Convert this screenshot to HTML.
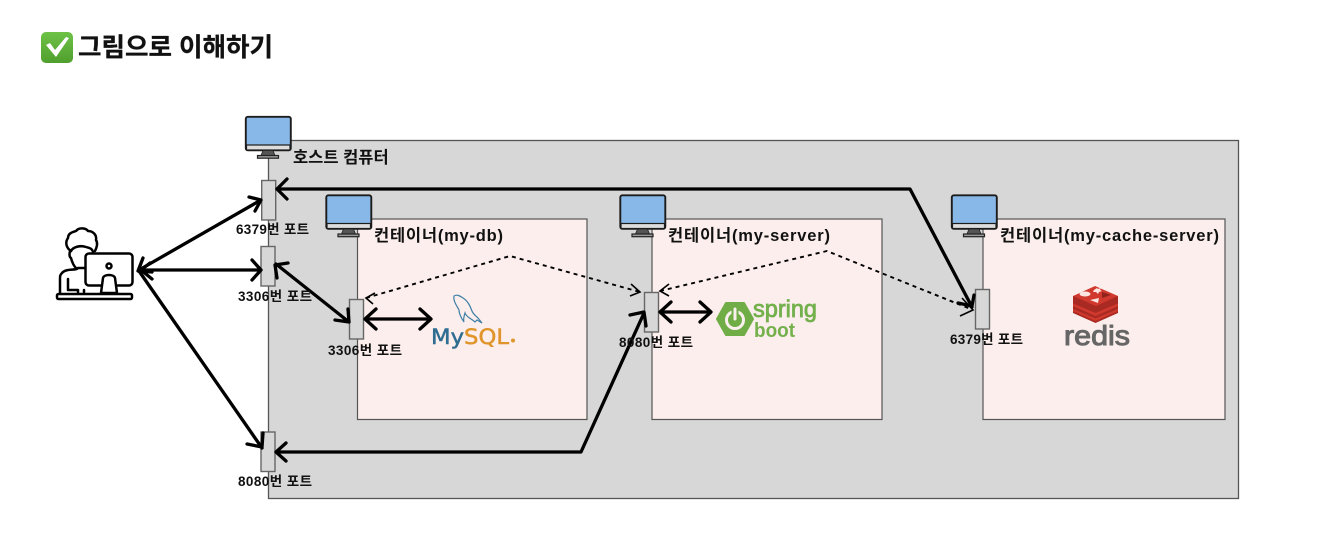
<!DOCTYPE html>
<html lang="ko"><head><meta charset="utf-8"><style>
html,body{margin:0;padding:0;background:#fff;width:1332px;height:550px;overflow:hidden}
svg{display:block}
text{font-family:"Liberation Sans","Noto Sans CJK KR",sans-serif;font-weight:700;fill:#111}
.l{font-size:16.5px}.p{font-size:13.5px}
.a{fill:none;stroke:#000;stroke-width:3.3;stroke-linecap:round;stroke-linejoin:round}
.d{fill:none;stroke:#000;stroke-width:1.9;stroke-dasharray:4 4}
.dh{fill:none;stroke:#000;stroke-width:1.6}
.c{fill:#fbeeec;stroke:#555;stroke-width:1.2}
.pt{fill:#d7d7d7;stroke:#666;stroke-width:1.4}
</style></head><body>
<svg width="1332" height="550" viewBox="0 0 1332 550" xmlns="http://www.w3.org/2000/svg">
<defs>
<linearGradient id="g" x1="0" y1="0" x2="0" y2="1"><stop offset="0" stop-color="#6fc247"/><stop offset="1" stop-color="#4f9f2e"/></linearGradient>
<g id="m">
<rect x="0.8" y="0.8" width="45" height="33.5" rx="2" fill="#88b8e8" stroke="#1c1c1c" stroke-width="1.9"/>
<rect x="1.5" y="29" width="43.5" height="5" fill="#ddd" stroke="#1c1c1c" stroke-width="1.2"/>
<path d="M18 34.500h10l2 5h-14z" fill="#555" stroke="#222" stroke-width=".8"/>
<rect x="12.500" y="39.500" width="21" height="2.700" fill="#999" stroke="#222" stroke-width="1.200"/>
</g>
</defs>

<!-- title -->
<rect x="41" y="32" width="32" height="31" rx="5" fill="url(#g)"/>
<path d="M46 45L50 43L55 50L66 37L69 38L56 57Z" fill="#fff"/>
<text x="78" y="56" textLength="195" lengthAdjust="spacingAndGlyphs" style="font-size:25.5px;stroke:#111;stroke-width:.3">그림으로 이해하기</text>

<!-- boxes -->
<rect x="268.500" y="140.500" width="970" height="358" fill="#d7d7d7" stroke="#555" stroke-width="1.300"/>
<rect class="c" x="357.500" y="219" width="229.500" height="200.500"/>
<rect class="c" x="652" y="219" width="230" height="200.500"/>
<rect class="c" x="983" y="219" width="242" height="200.500"/>

<use href="#m" x="245" y="116"/>
<use href="#m" x="325.500" y="194.500"/>
<use href="#m" x="619.500" y="194.500"/>
<use href="#m" x="951" y="194.500"/>

<text class="l" x="293" y="163">호스트 컴퓨터</text>
<text class="l" x="374" y="241" textLength="129">컨테이너(my-db)</text>
<text class="l" x="668" y="241" textLength="162">컨테이너(my-server)</text>
<text class="l" x="1000" y="241" textLength="219">컨테이너(my-cache-server)</text>

<!-- dashed -->
<path class="d" d="M366 298L510 256L640 292"/>
<path class="dh" d="M375 293L366 298L373 304M631 284L640 292L630 296"/>
<path class="d" d="M660 291L827 251L973 310"/>
<path class="dh" d="M669 284L660 291L669 296M962 298L973 310L960 316"/>

<!-- ports -->
<rect class="pt" x="261.700" y="180.500" width="14" height="39.500"/>
<rect class="pt" x="261" y="246.500" width="14" height="39.500"/>
<rect class="pt" x="261" y="432" width="14" height="39.500"/>
<rect class="pt" x="349.500" y="299.500" width="14" height="39.500"/>
<rect class="pt" x="644.500" y="292.500" width="14" height="39.500"/>
<rect class="pt" x="975.500" y="289.500" width="14" height="39.500"/>

<!-- arrows -->
<path class="a" d="M139 270L261 200M249 197L261 200L255 211"/>
<path class="a" d="M141 270H261M252 260L261 270L252 280"/>
<path class="a" d="M139 271L262 448M247 444L262 447L263 433"/>
<path class="a" d="M143 258L138 271L152 272M150 263L141 270L152 279"/>
<path class="a" d="M276 264L349 322M288 263L275 265L277 278M335 320L349 322L348 309"/>
<path class="a" d="M365 319H430M376 309L365 319L376 329M420 309L431 319L420 329"/>
<path class="a" d="M660 312H710M671 302L660 312L671 322M700 302L711 312L700 322"/>
<path class="a" d="M277 189H910L972 307M287 179L277 189L287 199M958 303L972 306L974 295"/>
<path class="a" d="M276 452H581L644 313M286 443L276 452L286 461M630 315L644 312L646 326"/>

<!-- port labels -->
<text class="p" x="236" y="234" textLength="73">6379번 포트</text>
<text class="p" x="238" y="301" textLength="74">3306번 포트</text>
<text class="p" x="328" y="355" textLength="74">3306번 포트</text>
<text class="p" x="619" y="347" textLength="74">8080번 포트</text>
<text class="p" x="950" y="344" textLength="73">6379번 포트</text>
<text class="p" x="238" y="486" textLength="74">8080번 포트</text>

<!-- person -->
<g fill="none" stroke="#000" stroke-width="2.500" stroke-linejoin="round" stroke-linecap="round">
<path d="M71 251c-5-3-6-9-3-13c0-5 5-6 8-7c3-4 10-3 12 0c5 0 9 4 8 9c2 3 1 7-1 11"/>
<path d="M71 251c2-4 9-6 15-4c3 1 6 1 7 5"/>
<path d="M71 251c-2 0-2 6 0 7c1 4 3 8 5 10"/>
<path d="M85 268h-7c-2 3-12 0-16 5c-2 2-2 3-2 6v14"/>
<path d="M68 279v11h10M78 290v3M84 290v3"/>
<rect x="85.500" y="253.500" width="47" height="32" rx="3.500" fill="#fff"/>
<circle cx="109" cy="266" r="2.500"/>
<path d="M101 293l2-15c1-4 11-4 12 0l2 15z" fill="#fff"/>
<rect x="57" y="294" width="75" height="5" rx="1.500" fill="#fff"/>
</g>

<!-- mysql -->
<path d="M454 296c3-2 6 0 9 2c5 3 7 8 9 13c1 3 4 5 6 7l4 5l-5-3l-2 2c-3-3-9-5-10-9c-1 3-2 6-1 9c-3-4-5-9-5-12c-2-4-6-9-5-14z" fill="none" stroke="#3d7fa6" stroke-width="1.200"/>
<text x="431" y="344" textLength="78" lengthAdjust="spacingAndGlyphs" style="font-size:21px;fill:#2f6d91;font-family:'DejaVu Sans',sans-serif;font-weight:400;stroke-width:.5;stroke:#2f6d91">My<tspan style="fill:#e0952b;stroke:#e0952b">SQL</tspan></text>
<circle cx="513" cy="340.500" r="2" fill="#e0952b"/>

<!-- spring -->
<path d="M717 319L726 303H744L753 319L744 335H726Z" fill="#70ad47" stroke="#70ad47" stroke-width="2" stroke-linejoin="round"/>
<circle cx="735" cy="320" r="8.500" fill="none" stroke="#fbf0ed" stroke-width="3"/>
<path d="M735 308V318" stroke="#70ad47" stroke-width="7"/>
<path d="M735 309V319" stroke="#fbf0ed" stroke-width="3" stroke-linecap="round"/>
<text x="753" y="317" textLength="64" lengthAdjust="spacingAndGlyphs" style="font-size:24px;fill:#74b14d;stroke:#74b14d;stroke-width:.8;font-weight:400">spring</text>
<text x="754" y="337" textLength="41" lengthAdjust="spacingAndGlyphs" style="font-size:20px;fill:#74b14d">boot</text>

<!-- redis -->
<path d="M1073 296V313L1095.500 323L1118 313V296Z" fill="#a92a22"/>
<path d="M1073 303.500L1095.500 313L1118 303.500V306L1095.500 316L1073 306Z" fill="#d1392e"/>
<path d="M1073 309L1095.500 318.500L1118 309V311L1095.500 321L1073 311Z" fill="#d1392e"/>
<path d="M1073 296L1095 286L1118 296L1096 306Z" fill="#d1392e"/>
<ellipse cx="1085" cy="294" rx="5.500" ry="2.500" fill="#fbe5e1"/>
<path d="M1094 290l3-2 1 1 3-1-1 2 2 1-3 1-1 2-2-2-3 0z" fill="#fbe5e1"/>
<path d="M1090 300l9-2-1 5z" fill="#fbe5e1"/>
<path d="M1102 292l9 3-9 3z" fill="#8f231c"/>
<text x="1064" y="345" textLength="66" lengthAdjust="spacingAndGlyphs" style="font-size:28px;fill:#666;font-weight:400;stroke:#666;stroke-width:1">redis</text>
</svg>
</body></html>
